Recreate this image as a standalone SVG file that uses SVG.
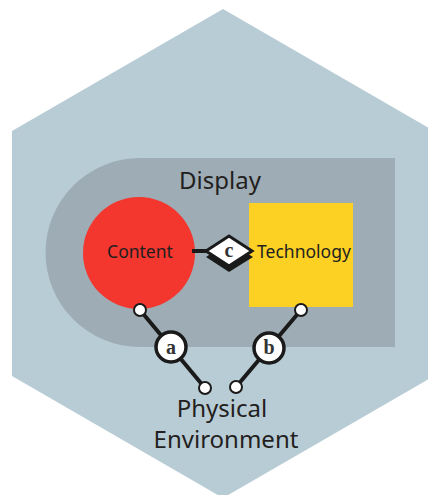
<svg xmlns="http://www.w3.org/2000/svg" width="428" height="495" viewBox="0 0 428 495">
  <style>
    .label { font-family: "Noto Sans", "Open Sans", sans-serif; fill: #231f20; }
    .big { font-size: 24px; }
    .mid { font-size: 17.5px; }
    .letter { font-family: "Liberation Serif", "DejaVu Serif", serif; font-size: 20px; font-weight: bold; fill: #333; text-anchor: middle; }
    .link { stroke: #1a1a1a; stroke-width: 4; fill: none; }
    .port { fill: #ffffff; stroke: #1a1a1a; stroke-width: 2; }
    .badge { fill: #ffffff; stroke: #1a1a1a; stroke-width: 3.5; }
  </style>

  <!-- outer hexagon: the physical environment -->
  <g id="environment">
    <polygon points="223,9 434,131 434,376 223,498 12,376 12,131" fill="#b8ccd5"/>
    <text class="label big" x="222" y="417" text-anchor="middle">Physical</text>
    <text class="label big" x="226" y="448" text-anchor="middle">Environment</text>
  </g>

  <!-- display area -->
  <g id="display">
    <path d="M140,158 H395 V347 H140 A94.5,94.5 0 0 1 140,158 Z" fill="#9eadb5"/>
    <text class="label big" x="220" y="189" text-anchor="middle">Display</text>
  </g>

  <g id="content">
    <circle cx="139" cy="253" r="56" fill="#f3362e"/>
    <text class="label mid" x="140" y="258" text-anchor="middle">Content</text>
  </g>

  <g id="technology">
    <rect x="249" y="203" width="104" height="104" fill="#fdd123"/>
    <text class="label mid" x="304" y="258" text-anchor="middle">Technology</text>
  </g>

  <!-- connectors -->
  <g id="connectors">
    <!-- c: content to technology -->
    <line class="link" x1="192" y1="251" x2="210" y2="251"/>
    <polygon points="206,257 229,242 253,257 229,272" fill="#1a1a1a"/>
    <polygon points="206,251 229,236 252,251 229,266" fill="#ffffff" stroke="#1a1a1a" stroke-width="3"/>
    <text class="letter" x="229" y="257">c</text>

    <!-- a: content to environment -->
    <line class="link" x1="140" y1="310" x2="205" y2="388"/>
    <circle class="port" cx="140" cy="310" r="6"/>
    <circle class="port" cx="205" cy="388" r="6"/>
    <circle class="badge" cx="171" cy="347" r="15"/>
    <text class="letter" x="171" y="354">a</text>

    <!-- b: technology to environment -->
    <line class="link" x1="301" y1="310" x2="236" y2="387"/>
    <circle class="port" cx="301" cy="310" r="6"/>
    <circle class="port" cx="236" cy="387" r="6"/>
    <circle class="badge" cx="269" cy="348" r="15"/>
    <text class="letter" x="269" y="354">b</text>
  </g>
</svg>
